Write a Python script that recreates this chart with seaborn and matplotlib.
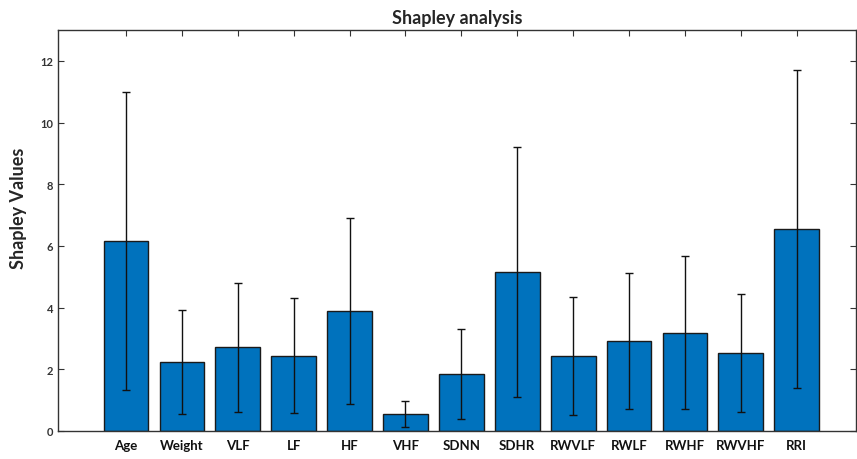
import matplotlib
matplotlib.use("Agg")
import matplotlib.pyplot as plt
import seaborn as sns
import pandas as pd

features = ["Age", "Weight", "VLF", "LF", "HF", "VHF", "SDNN", "SDHR",
            "RWVLF", "RWLF", "RWHF", "RWVHF", "RRI"]
shapley_mean = [6.17, 2.23, 2.71, 2.44, 3.88, 0.55, 1.85, 5.16,
                2.43, 2.92, 3.18, 2.53, 6.55]
shapley_err = [4.83, 1.69, 2.08, 1.87, 3.02, 0.42, 1.47, 4.05,
               1.91, 2.21, 2.48, 1.91, 5.15]
y_ticks = [0, 2, 4, 6, 8, 10, 12]

sns.set_style("white")
plt.rcParams["font.family"] = ["Lato", "DejaVu Sans"]

df = pd.DataFrame({"feature": features, "value": shapley_mean, "err": shapley_err})

fig = plt.figure(figsize=(8.57, 4.60), dpi=100)
ax = fig.add_axes([58/857, 28/460, (856-58)/857, (432-31)/460])

sns.barplot(data=df, x="feature", y="value", color="#0072BD", saturation=1,
            width=0.8, edgecolor="#1a1a1a", linewidth=1.0, errorbar=None, ax=ax)
ax.errorbar(range(len(features)), df["value"], yerr=df["err"], fmt="none",
            ecolor="#111111", elinewidth=1.0, capsize=3, capthick=1.0, zorder=5)

ax.set_xlim(-1.216, 13.06)
ax.set_ylim(0, 13)
ax.set_yticks(y_ticks)
ax.set_yticklabels([str(t) for t in y_ticks], fontsize=8, fontweight="bold", color="#333333")
ax.set_xticks(range(len(features)))
ax.set_xticklabels(features, fontsize=9.5, fontweight="bold", color="#111111")
ax.tick_params(axis="both", direction="in", top=True, right=True, bottom=True, left=True,
               length=4, width=0.8, color="#333333")
ax.tick_params(axis="x", pad=6)
ax.set_xlabel("")
ax.set_ylabel("Shapley Values", fontsize=13, fontweight="bold")
ax.yaxis.set_label_coords(-0.039, 0.559)
ax.set_title("Shapley analysis", fontsize=13, fontweight="bold", pad=5)
for s in ax.spines.values():
    s.set_visible(True)
    s.set_color("#333333")
    s.set_linewidth(1.0)

fig.savefig("out.png", dpi=100)
